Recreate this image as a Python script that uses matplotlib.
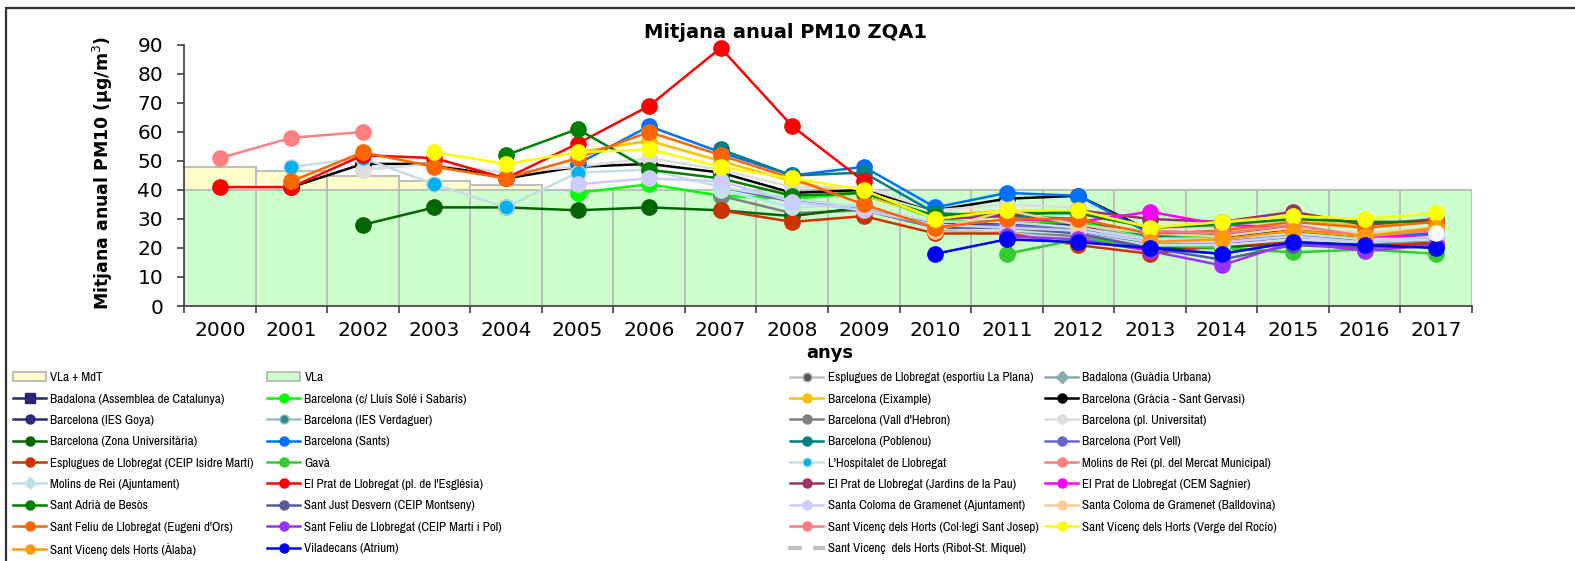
import matplotlib
matplotlib.use('Agg')
import matplotlib.pyplot as plt
from matplotlib import font_manager
from matplotlib.lines import Line2D
from matplotlib.patches import Patch, Rectangle
import numpy as np

N = None
years = ['2000', '2001', '2002', '2003', '2004', '2005', '2006', '2007', '2008',
         '2009', '2010', '2011', '2012', '2013', '2014', '2015', '2016', '2017']

# limit values (bars)
vla_mdt = [48, 46.4, 44.8, 43.2, 41.6, 40, 40, 40, 40, 40, 40, 40, 40, 40, 40, 40, 40, 40]
vla = [40, 40, 40, 40, 40, 40, 40, 40, 40, 40, 40, 40, 40, 40, 40, 40, 40, 40]

# station annual means, 2000..2017
esplugues_plana = [N, N, N, N, N, N, N, N, N, N, 26, 25, 24, 20, 20, 23, 21, 22]
badalona_gu = [N, N, N, N, N, N, N, N, N, N, 29, 29, 28, 23, 23, 25, 23, 24]
badalona_assemblea = [N, N, N, N, N, N, N, N, N, N, 29, 29, 26, 21, 21, 24, 22, 23]
bcn_sole = [N, N, N, N, N, 39, 42, 38, 37, 39, 30, 28, 29, 24, 24, 25, 24, 25]
bcn_eixample = [N, N, N, N, N, 53, 57, 50, 43, 38, 31, 33, 32, 27, 27, 29, 28, 29]
bcn_gracia = [N, 41, 49, 49, 44, 48, 49, 46, 39, 40, 33, 37, 38, 26, 24, 26, 24, 26]
bcn_goya = [N, N, N, N, N, N, N, N, N, N, 28, 28, 28, 21, 22, 25, 22, 23]
bcn_verdaguer = [N, N, N, N, N, N, N, N, N, N, 28, 27, 27, 22, 22, 24, 22, 23]
bcn_vall_hebron = [N, N, N, N, N, N, N, 38, 32, 33, 27, 26, 24, 20, 18, 22, 21, 22]
bcn_universitat = [N, N, 47, 49, 46, 48, 51, 47, 41, 41, 33, 35, 34, 27, 27, 29, 27, 29]
bcn_zona_univ = [N, N, 28, 34, 34, 33, 34, 33, 31, 34, 28, 29, 27, 20, 20, 22, 21, 21]
bcn_sants = [N, N, N, N, N, 49, 62, 53, 45, 48, 34, 39, 38, 25, 25, 27, 24, 25]
bcn_poblenou = [N, N, N, N, N, N, N, 54, 45, 46, 32, 31, 30, 24, 25, 27, 24, 26]
bcn_port_vell = [N, N, N, N, N, N, N, 41, 36, 34, 27, 28, 26, 22, 22, 24, 22, 23]
esplugues_isidre = [N, N, N, N, N, N, N, 33, 29, 31, 25, 25, 21, 18, 21, 22, 20, 22]
gava = [N, N, N, N, N, N, N, N, N, N, N, 18, 23, 21, 20, 18.5, 19.5, 18]
hospitalet = [N, 48, 51, 42, 34, 46, 47, 41, 37, 34, 29, 29, 27, 23, 23, 25, 23, 24]
molins_mercat = [51, 58, 60, N, N, N, N, N, N, N, N, N, N, N, N, N, N, N]
molins_ajuntament = [N, N, N, N, N, N, N, 40, 34, 35, 27, 26, 25, 21, 21, 23, 22, 23]
prat_esglesia = [41, 41, 52, 51, 44, 56, 69, 89, 62, 43, N, N, N, N, N, N, N, N]
prat_jardins = [N, N, N, N, N, N, N, N, N, N, 30, 31, 33, 30, 29, 32.5, 28, 30]
prat_sagnier = [N, N, N, N, N, N, N, N, N, N, N, 30, 29, 32.5, 28, 27, 24, 24]
sant_adria = [N, N, N, N, 52, 61, 47, 44, 38, 39, 31, 32, 32, 27, 28, 30, 29, 29]
sant_just = [N, N, N, N, N, N, N, N, N, N, 27, 27, 25, 20, 16, 21, 20, 21]
scoloma_ajuntament = [N, N, N, N, N, 42, 44, 43, 36, 33, 28, 27, 26, 22, 22, 24, 22, 24]
scoloma_balldovina = [N, N, N, N, N, N, N, N, N, N, 26, 33, 28, 25, 24, 27, 25, 27]
sfeliu_eugeni = [N, 43, 53, 48, 44, 51, 60, 52, 44, 35, 27, 30, 30, 25, 26, 29, 27, 29]
sfeliu_marti = [N, N, N, N, N, N, N, N, N, N, N, 24, 23, 19, 14, 22, 19, 21]
svh_sant_josep = [N, N, N, N, N, N, N, N, N, N, N, N, N, 26, 25, 28, 24, 26]
svh_rocio = [N, N, N, 53, 49, 53, 54, 48, 44, 40, 30, 33, 33, 27, 29, 31, 30, 32]
svh_alaba = [N, N, N, N, N, N, N, N, N, N, N, N, N, 22, 23, 26, 24, 27]
viladecans = [N, N, N, N, N, N, N, N, N, N, 18, 23, 22, 20, 18, 22, 21, 20]
svh_ribot = [N, N, N, N, N, N, N, N, N, N, N, N, N, N, N, N, N, 25]

# (label, values, line colour, marker face, legend marker)
series = [
    ("Esplugues de Llobregat (esportiu La Plana)", esplugues_plana, '#C0C0C0', '#595959', 'o'),
    ("Badalona (Guàdia Urbana)", badalona_gu, '#8EA9AD', '#8EA9AD', 'D'),
    ("Badalona (Assemblea de Catalunya)", badalona_assemblea, '#262673', '#262673', 's'),
    ("Barcelona (c/ Lluís Solé i Sabarís)", bcn_sole, '#00FF00', '#00FF00', 'o'),
    ("Barcelona (Eixample)", bcn_eixample, '#FFC000', '#FFC000', 'o'),
    ("Barcelona (Gràcia - Sant Gervasi)", bcn_gracia, '#000000', '#000000', 'o'),
    ("Barcelona (IES Goya)", bcn_goya, '#2B2B7A', '#2B2B7A', 'o'),
    ("Barcelona (IES Verdaguer)", bcn_verdaguer, '#A0BEBE', '#2E8B8B', 'o'),
    ("Barcelona (Vall d'Hebron)", bcn_vall_hebron, '#808080', '#808080', 'o'),
    ("Barcelona (pl. Universitat)", bcn_universitat, '#DDDDDD', '#DDDDDD', 'o'),
    ("Barcelona (Zona Universitària)", bcn_zona_univ, '#006600', '#006600', 'o'),
    ("Barcelona (Sants)", bcn_sants, '#0070FF', '#0070FF', 'o'),
    ("Barcelona (Poblenou)", bcn_poblenou, '#008080', '#008080', 'o'),
    ("Barcelona (Port Vell)", bcn_port_vell, '#6666CC', '#6666CC', 'o'),
    ("Esplugues de Llobregat (CEIP Isidre Martí)", esplugues_isidre, '#CC3300', '#CC3300', 'o'),
    ("Gavà", gava, '#33CC33', '#33CC33', 'o'),
    ("L'Hospitalet de Llobregat", hospitalet, '#C5DEE3', '#00B0F0', 'o'),
    ("Molins de Rei (pl. del Mercat Municipal)", molins_mercat, '#FF8080', '#FF8080', 'o'),
    ("Molins de Rei (Ajuntament)", molins_ajuntament, '#C0E2EA', '#C0E2EA', 'D'),
    ("El Prat de Llobregat (pl. de l'Església)", prat_esglesia, '#FF0000', '#FF0000', 'o'),
    ("El Prat de Llobregat (Jardins de la Pau)", prat_jardins, '#993366', '#993366', 'o'),
    ("El Prat de Llobregat (CEM Sagnier)", prat_sagnier, '#FF00FF', '#FF00FF', 'o'),
    ("Sant Adrià de Besòs", sant_adria, '#008000', '#008000', 'o'),
    ("Sant Just Desvern (CEIP Montseny)", sant_just, '#5A5A9A', '#5A5A9A', 'o'),
    ("Santa Coloma de Gramenet (Ajuntament)", scoloma_ajuntament, '#CCCCFF', '#CCCCFF', 'o'),
    ("Santa Coloma de Gramenet (Balldovina)", scoloma_balldovina, '#FFCC99', '#FFCC99', 'o'),
    ("Sant Feliu de Llobregat (Eugeni d'Ors)", sfeliu_eugeni, '#FF6600', '#FF6600', 'o'),
    ("Sant Feliu de Llobregat (CEIP Martí i Pol)", sfeliu_marti, '#9933FF', '#9933FF', 'o'),
    ("Sant Vicenç dels Horts (Col·legi Sant Josep)", svh_sant_josep, '#FF7C80', '#FF7C80', 'o'),
    ("Sant Vicenç dels Horts (Verge del Rocío)", svh_rocio, '#FFFF00', '#FFFF00', 'o'),
    ("Sant Vicenç dels Horts (Àlaba)", svh_alaba, '#FF9900', '#FF9900', 'o'),
    ("Viladecans (Atrium)", viladecans, '#0000FF', '#0000FF', 'o'),
    ("Sant Vicenç  dels Horts (Ribot-St. Miquel)", svh_ribot, '#C0C0C0', '#FFFFFF', 's'),
]

W, H = 1575, 561
fig = plt.figure(figsize=(W / 100, H / 100), dpi=100)
ax = fig.add_axes([184 / W, 1 - 306 / H, (1472 - 184) / W, 261 / H])

x = np.arange(len(years))
ax.bar(x, vla_mdt, width=1.0, color='#FFFFCC', edgecolor='#BFBFBF', linewidth=1.5, zorder=1)
ax.bar(x, vla, width=1.0, color='#CCFFCC', edgecolor='#BFBFBF', linewidth=1.5, zorder=1)

handles = [Patch(facecolor='#FFFFCC', edgecolor='#BFBFBF', linewidth=1.5),
           Patch(facecolor='#CCFFCC', edgecolor='#BFBFBF', linewidth=1.5)]
labels = ["VLa + MdT", "VLa"]

for label, vals, lc, mf, mk in series:
    y = np.array([np.nan if v is None else v for v in vals], dtype=float)
    lw = 3.0 if 'Ribot' in label else 1.8
    edge = '#F0F0F0' if mf == '#FFFFFF' else lc
    ax.plot(x, y, color=lc, lw=lw, marker='o', ms=11, mfc=mf, mec=edge,
            mew=1.0, zorder=3, clip_on=False)
    handles.append(Line2D([], [], color=lc, lw=lw, marker=mk, ms=6.5, mfc=mf,
                          mec='#FFFFFF' if mf == '#FFFFFF' else lc))
    labels.append(label)

ax.set_xlim(-0.5, len(years) - 0.5)
ax.set_ylim(0, 90)
ax.set_yticks(range(0, 91, 10))
ax.set_xticks(np.arange(-0.5, len(years), 1.0))
ax.set_xticklabels([])
ax.set_xticks(x, minor=True)
ax.set_xticklabels(years, minor=True)
ax.tick_params(axis='y', length=5, width=1.2, labelsize=14.5, pad=10, color='#404040')
ax.tick_params(axis='x', which='major', length=5, width=1.2, color='#404040')
ax.tick_params(axis='x', which='minor', length=0, labelsize=14.5, pad=11)
for s in ['top', 'right']:
    ax.spines[s].set_visible(False)
for s in ['left', 'bottom']:
    ax.spines[s].set_color('#404040')
    ax.spines[s].set_linewidth(1.2)
    ax.spines[s].set_zorder(4)

fig.text(785 / W, 1 - 33 / H, "Mitjana anual PM10 ZQA1", ha='center', va='center',
         fontsize=14, fontweight='bold')
fig.text(103 / W, 1 - 173 / H, "Mitjana anual PM10 (µg/m$^3$)", ha='center', va='center',
         rotation=90, fontsize=12.5, fontweight='bold')
fig.text(830 / W, 1 - 353 / H, "anys", ha='center', va='center',
         fontsize=13, fontweight='bold')

# outer chart border (only top and left are inside the picture)
fig.patches.append(Rectangle((6 / W, -0.1), 1.2, 1 - 8 / H + 0.1, transform=fig.transFigure,
                             fill=False, edgecolor='#303030', linewidth=1.6, zorder=0))

# legend text is narrow in the original; use a narrow face when there is one
font_names = {f.name for f in font_manager.fontManager.ttflist}
if 'Archivo Narrow' in font_names:
    legend_font = {'family': ['Archivo Narrow', 'DejaVu Sans'], 'size': 9.4}
else:
    legend_font = {'family': ['Liberation Sans', 'DejaVu Sans'], 'size': 7.2}
fs = legend_font['size']

# legend in four columns, read row by row
col_x = [13, 267, 790, 1045]
for c in range(4):
    fig.legend(handles[c::4], labels[c::4], loc='upper left',
               bbox_to_anchor=(col_x[c] / W, 1 - 372 / H),
               ncol=1, frameon=False, prop=legend_font, handlelength=24 / fs,
               handletextpad=3 / fs, labelspacing=(16.4 - 0.96 * fs) / fs,
               borderpad=0, borderaxespad=0)

fig.savefig('out.png', dpi=100)
